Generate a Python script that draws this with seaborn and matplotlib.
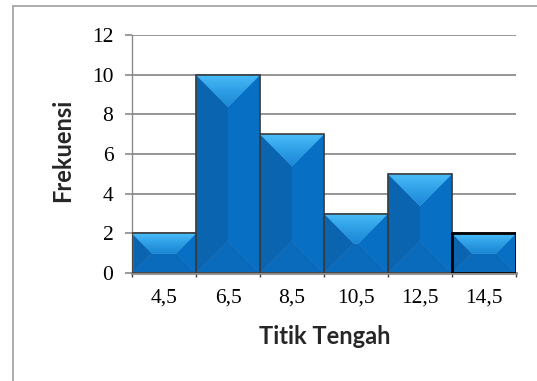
import matplotlib
matplotlib.use("Agg")
import matplotlib.pyplot as plt
import seaborn as sns
import numpy as np
from matplotlib.patches import Polygon
from matplotlib.lines import Line2D
from matplotlib.ticker import FixedLocator
from matplotlib.colors import LinearSegmentedColormap

# ---- data ----
titik_tengah = ["4,5", "6,5", "8,5", "10,5", "12,5", "14,5"]
frekuensi = [2, 10, 7, 3, 5, 2]
y_ticks = [0, 2, 4, 6, 8, 10, 12]

sns.set_theme(style="white")
plt.rcParams["font.family"] = ["Liberation Serif", "DejaVu Serif"]

fig = plt.figure(figsize=(5.37, 3.81), dpi=100)
fig.patch.set_facecolor("white")
ax = fig.add_axes([132 / 537, 108 / 381, 384 / 537, 238 / 381])

sns.barplot(x=titik_tengah, y=frekuensi, width=1.0, color="#0A6CBE",
            edgecolor="#3c3c3c", linewidth=1.2, saturation=1, ax=ax)

ax.set_xlim(-0.5, len(titik_tengah) - 0.5)
ax.set_ylim(0, 12)
ax.set_yticks(y_ticks)
ax.set_yticklabels([str(v) for v in y_ticks], fontsize=15.5, color="black")

# category ticks: labels at centers, tick marks between categories
ax.xaxis.set_major_locator(FixedLocator(np.arange(-0.5, len(titik_tengah), 1.0)))
ax.set_xticklabels([""] * len(ax.get_xticks()))
ax.set_xticks(np.arange(len(titik_tengah)), labels=titik_tengah, minor=True)
ax.tick_params(axis="x", which="minor", length=0, labelsize=15.5, pad=11, labelcolor="black")
ax.tick_params(axis="x", which="major", length=3, width=1, color="#404040", direction="out", bottom=True)
ax.tick_params(axis="y", length=5, width=1.2, color="#8a8a8a", direction="out", pad=8.5, left=True)

ax.yaxis.grid(True, color="#8c8c8c", linewidth=1.3)
ax.xaxis.grid(False)
ax.set_axisbelow(True)
for s in ["top", "right"]:
    ax.spines[s].set_visible(False)
ax.spines["left"].set_color("#8a8a8a")
ax.spines["left"].set_linewidth(1.0)
ax.spines["bottom"].set_color("#8a8a8a")
ax.spines["bottom"].set_linewidth(2.0)

lab_font = ["Lato", "DejaVu Sans"]
ax.set_xlabel("Titik Tengah", fontsize=17, fontweight="bold", family=lab_font,
              va="baseline", ha="center")
ax.xaxis.set_label_coords(0.502, -0.298)
ax.set_ylabel("Frekuensi", fontsize=17, fontweight="bold", family=lab_font,
              va="center", ha="center")
ax.yaxis.set_label_coords(-0.18, 0.515)

# ---- bevel effect derived from the bar patches ----
fig.canvas.draw()
p0 = ax.transData.transform((0, 0))
px_x = ax.transData.transform((1, 0))[0] - p0[0]
px_y = ax.transData.transform((0, 1))[1] - p0[1]

top_cmap = LinearSegmentedColormap.from_list("topface", ["#1C88D4", "#2E9FE6", "#4ABDF8"])
grad = np.linspace(0, 1, 64).reshape(-1, 1)

bars = [p for p in ax.patches]
for i, p in enumerate(bars):
    x0, y0 = p.get_x(), p.get_y()
    w, h = p.get_width(), p.get_height()
    x1, y1 = x0 + w, y0 + h
    d = min(w * px_x, h * px_y) / 2.0
    dx, dy = d / px_x, d / px_y
    faces = [
        ([(x0, y0), (x1, y0), (x1 - dx, y0 + dy), (x0 + dx, y0 + dy)], "#0A6ABC"),
        ([(x0, y0), (x0, y1), (x0 + dx, y1 - dy), (x0 + dx, y0 + dy)], "#0A64B0"),
        ([(x1, y0), (x1, y1), (x1 - dx, y1 - dy), (x1 - dx, y0 + dy)], "#0870C4"),
    ]
    for pts, col in faces:
        ax.add_patch(Polygon(pts, closed=True, facecolor=col, edgecolor=col,
                             linewidth=0.3, zorder=2.5))
    top_pts = [(x0, y1), (x1, y1), (x1 - dx, y1 - dy), (x0 + dx, y1 - dy)]
    clip = Polygon(top_pts, closed=True, facecolor="#2E9FE6", edgecolor="#2E9FE6",
                   linewidth=0.3, zorder=2.5)
    ax.add_patch(clip)
    im = ax.imshow(grad, cmap=top_cmap, aspect="auto", origin="lower",
                   extent=(x0, x1, y1 - dy, y1), zorder=2.55, interpolation="bilinear")
    im.set_clip_path(clip)
    p.set_facecolor("none")
    p.set_zorder(3)
    if i == len(bars) - 1:
        p.set_edgecolor("black")
        p.set_linewidth(2.0)

ax.set_xlim(-0.5, len(titik_tengah) - 0.5)
ax.set_ylim(0, 12)

# ---- outer chart frame (partially visible) ----
fx, fy = 13 / 537, 1 - 6 / 381
fig.add_artist(Line2D([fx, 1.0], [fy, fy], transform=fig.transFigure, color="#a6a6a6", linewidth=1.3))
fig.add_artist(Line2D([fx, fx], [fy, 0.0], transform=fig.transFigure, color="#a6a6a6", linewidth=1.3))

fig.savefig("out.png", dpi=100, facecolor="white")
